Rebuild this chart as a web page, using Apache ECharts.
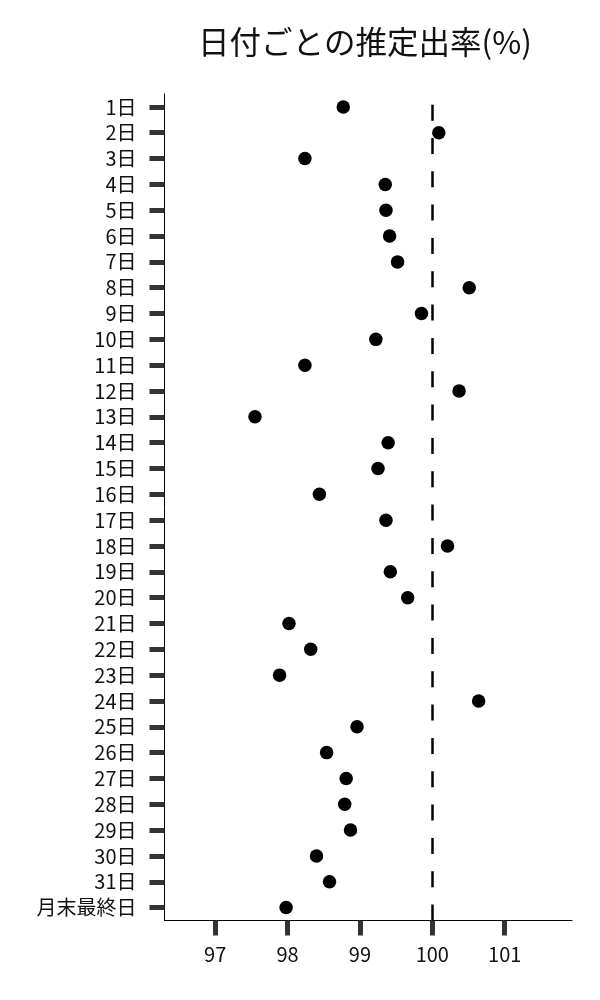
<!DOCTYPE html>
<html><head><meta charset="utf-8">
<script src="https://cdn.jsdelivr.net/npm/echarts@6/dist/echarts.min.js"></script>
<style>html,body{margin:0;padding:0;background:#fff}#c{width:600px;height:1000px}</style>
</head><body><div id="c"></div>
<script>
const categories = ['1日','2日','3日','4日','5日','6日','7日','8日','9日','10日','11日','12日','13日','14日','15日','16日','17日','18日','19日','20日','21日','22日','23日','24日','25日','26日','27日','28日','29日','30日','31日','月末最終日'];
const rates = [98.77,100.09,98.24,99.35,99.36,99.41,99.52,100.51,99.85,99.22,98.24,100.37,97.55,99.39,99.25,98.44,99.36,100.21,99.42,99.66,98.02,98.32,97.89,100.64,98.96,98.54,98.81,98.79,98.87,98.40,98.58,97.98];
const xTicks = [97,98,99,100,101];
const refValue = 100;
const titleText = '日付ごとの推定出率(%)';

const font = "'Noto Sans CJK JP', 'Noto Sans', sans-serif";
const chart = echarts.init(document.getElementById('c'), null, {renderer:'canvas'});
chart.setOption({
  backgroundColor:'#fff',
  animation:false,
  title:{text:titleText, left:360, top:21, textAlign:'center',
    textStyle:{fontFamily:font, fontSize:31.5, fontWeight:'normal', color:'#111'}},
  grid:{left:164.5, right:28, top:94, bottom:79.5, containLabel:false},
  xAxis:{type:'value', min:96.3, max:101.93,
    axisLine:{show:true, lineStyle:{color:'#000', width:1}},
    axisTick:{show:true, customValues:xTicks, length:15, lineStyle:{color:'#333', width:5}},
    axisLabel:{customValues:xTicks, margin:24, fontFamily:font, fontSize:20, color:'#111'},
    splitLine:{show:false}},
  yAxis:{type:'category', data:categories, inverse:true,
    axisLine:{show:true, lineStyle:{color:'#000', width:1}},
    axisTick:{show:true, interval:0, alignWithLabel:true, length:15, lineStyle:{color:'#333', width:5}},
    axisLabel:{interval:0, margin:28, fontFamily:font, fontSize:20, color:'#111'}},
  series:[{type:'scatter', symbolSize:13.5, itemStyle:{color:'#000', opacity:1},
    data: rates.map((v,i)=>[v, categories[i]]),
    markLine:{silent:true, symbol:'none', label:{show:false},
      lineStyle:{color:'#000', width:2.5, type:[16,17.33], dashOffset:22.7},
      data:[{xAxis:refValue}]}}]
});
</script></body></html>
